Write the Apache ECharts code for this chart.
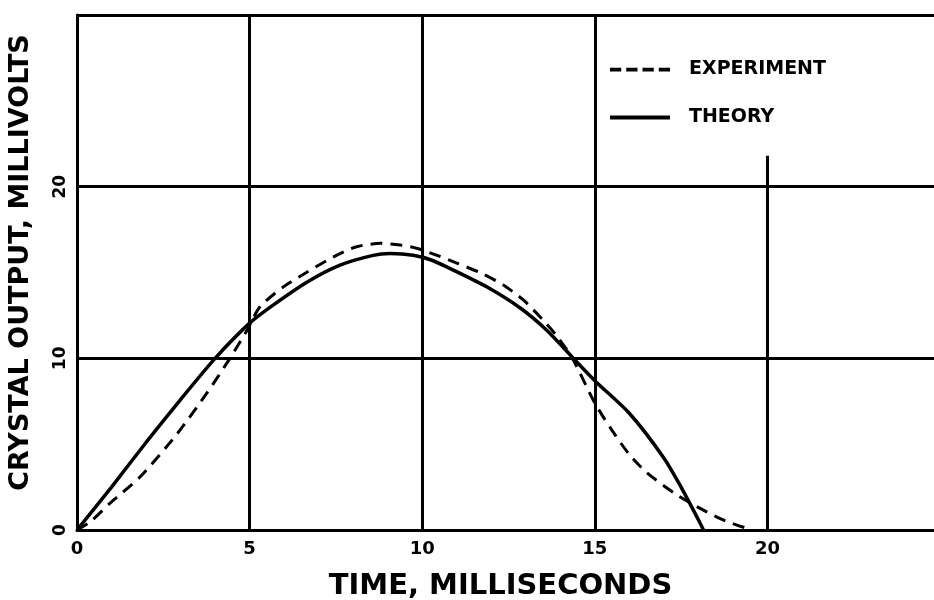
<!DOCTYPE html>
<html>
<head>
<meta charset="utf-8">
<script src="https://cdn.jsdelivr.net/npm/echarts@6/dist/echarts.min.js"></script>
<style>
  html, body { margin: 0; padding: 0; background: #fff; }
  #chart { width: 934px; height: 600px; }
</style>
</head>
<body>
<div id="chart"></div>
<script>
// values
const xTicks = [0, 5, 10, 15, 20]
const yTicks = [0, 10, 20]

const theoryX = [0, 1, 2, 3, 4, 5, 5.68, 6.67, 7.62, 8.58, 9.07, 9.74, 10.3, 10.9, 11.88, 12.84, 13.6, 14.38, 15, 16, 17, 17.5, 18, 18.15]
const theoryY = [0, 2.5, 5.1, 7.6, 10, 12.05, 13.1, 14.45, 15.43, 16.0, 16.1, 16.0, 15.7, 15.14, 14.15, 12.93, 11.65, 10.0, 8.7, 6.8, 4.2, 2.5, 0.6, 0]

const expX = [0, 0.38, 0.96, 1.83, 2.9, 3.77, 4.43, 4.93, 5.3, 5.97, 6.67, 7.42, 8.1, 8.8, 9.36, 9.86, 10.43, 11.0, 11.7, 12.35, 12.93, 13.5, 13.9, 14.35, 15.0, 15.5, 16.0, 16.5, 17.3, 17.97, 18.7, 19.4]
const expY = [0, 0.47, 1.57, 3.1, 5.6, 8.0, 10.0, 11.65, 13.0, 14.15, 15.03, 15.9, 16.5, 16.7, 16.6, 16.4, 16.0, 15.55, 14.97, 14.27, 13.4, 12.23, 11.3, 10.0, 7.4, 5.8, 4.4, 3.35, 2.15, 1.35, 0.6, 0.1]

// vertical grid lines (the one at 20 stops short under the legend)
const vLines = [5, 10, 15]
const vLine20Top = 21.8

const zip = (xs, ys) => xs.map((x, i) => [x, ys[i]])
const ink = '#000'
const font = 'DejaVu Sans'

const chart = echarts.init(document.getElementById('chart'))

const gridMarks = vLines.map(v => [{ coord: [v, 0] }, { coord: [v, 30] }])
gridMarks.push([{ coord: [20, 0] }, { coord: [20, vLine20Top] }])

const option = {
  animation: false,
  backgroundColor: '#fff',
  grid: { left: 77, width: 863, top: 15, bottom: 70, outerBoundsMode: 'none', containLabel: false },
  legend: {
    orient: 'vertical',
    left: 605,
    top: 55,
    itemWidth: 60,
    itemHeight: 14,
    itemGap: 29,
    icon: 'path://M0,5 L60,5 L60,9 L0,9 Z',
    textStyle: { fontFamily: font, fontWeight: 'bold', fontSize: 19, color: ink, padding: [0, 0, 0, 14] },
    data: [
      { name: 'EXPERIMENT', icon: 'path://M0,6 L9,6 L9,9 L0,9 Z M13,6 L22,6 L22,9 L13,9 Z M26,6 L35,6 L35,9 L26,9 Z M39,6 L48,6 L48,9 L39,9 Z' },
      { name: 'THEORY' }
    ]
  },
  xAxis: {
    type: 'value',
    min: 0,
    max: 25,
    interval: 5,
    name: 'TIME, MILLISECONDS',
    nameLocation: 'middle',
    nameGap: 42,
    nameTextStyle: { fontFamily: font, fontWeight: 'bold', fontSize: 29, color: ink, padding: [0, 16, 0, 0] },
    axisLine: { show: true, lineStyle: { color: ink, width: 3 } },
    axisTick: { show: false },
    splitLine: { show: false },
    axisLabel: {
      fontFamily: font, fontWeight: 'bold', fontSize: 18, color: ink, margin: 10,
      formatter: v => (xTicks.includes(v) ? String(v) : '')
    }
  },
  yAxis: {
    type: 'value',
    min: 0,
    max: 30,
    interval: 10,
    name: 'CRYSTAL OUTPUT, MILLIVOLTS',
    nameLocation: 'middle',
    nameGap: 43,
    nameTextStyle: { fontFamily: font, fontWeight: 'bold', fontSize: 27, color: ink, padding: [0, 0, 0, 20] },
    axisLine: { show: true, lineStyle: { color: ink, width: 3 } },
    axisTick: { show: false },
    splitLine: { show: true, lineStyle: { color: ink, width: 3 } },
    axisLabel: {
      fontFamily: font, fontWeight: 'bold', fontSize: 17, color: ink, margin: 8, rotate: 90,
      formatter: v => (yTicks.includes(v) ? String(v) : '')
    }
  },
  series: [
    {
      name: 'EXPERIMENT',
      type: 'line',
      smooth: 0.25,
      symbol: 'none',
      data: zip(expX, expY),
      lineStyle: { color: ink, width: 3, type: [12, 8] },
      itemStyle: { color: ink },
      z: 3
    },
    {
      name: 'THEORY',
      type: 'line',
      smooth: 0.25,
      symbol: 'none',
      data: zip(theoryX, theoryY),
      lineStyle: { color: ink, width: 3.5 },
      itemStyle: { color: ink },
      z: 4,
      markLine: {
        silent: true,
        symbol: ['none', 'none'],
        label: { show: false },
        lineStyle: { color: ink, width: 3, type: 'solid' },
        data: gridMarks
      }
    }
  ]
}

chart.setOption(option)
</script>
</body>
</html>
